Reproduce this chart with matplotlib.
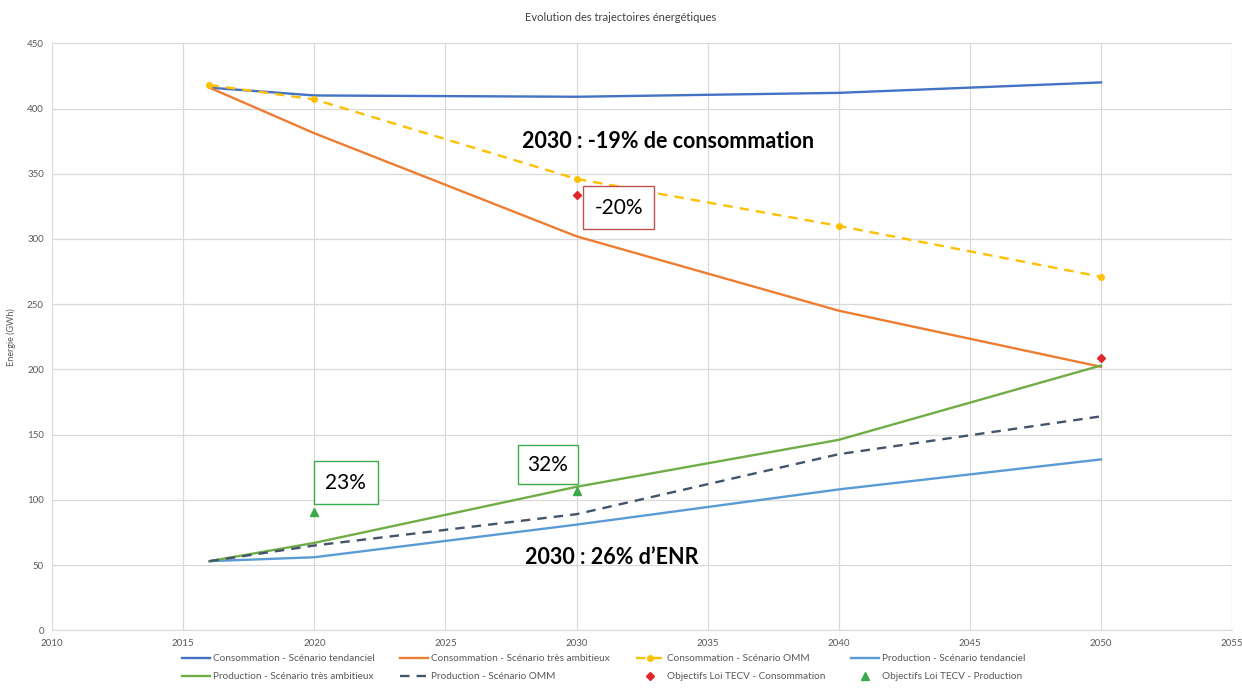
import matplotlib.pyplot as plt

# Données
years = [2016, 2020, 2030, 2040, 2050]
conso_tendanciel = [416, 410, 409, 412, 420]
conso_ambitieux = [416, 381, 302, 245, 202]
conso_omm = [418, 407, 346, 310, 271]
prod_tendanciel = [53, 56, 81, 108, 131]
prod_ambitieux = [53, 67, 110, 146, 203]
prod_omm = [53, 65, 89, 135, 164]
obj_conso_years = [2030, 2050]
obj_conso = [334, 209]
obj_prod_years = [2020, 2030]
obj_prod = [91, 107]

plt.rcParams['font.family'] = ['Lato', 'DejaVu Sans']

fig = plt.figure(figsize=(12.42, 6.98), dpi=100)
ax = fig.add_axes([0.042, 0.097, 0.95, 0.841])

h1, = ax.plot(years, conso_tendanciel, color="#4472C4", lw=1.7, label="Consommation - Scénario tendanciel")
h2, = ax.plot(years, conso_ambitieux, color="#ED7D31", lw=1.7, label="Consommation - Scénario très ambitieux")
h3, = ax.plot(years, conso_omm, color="#FFC000", lw=1.7, ls=(0, (4, 3)), marker="o", ms=4,
              label="Consommation - Scénario OMM")
h4, = ax.plot(years, prod_tendanciel, color="#5B9BD5", lw=1.7, label="Production - Scénario tendanciel")
h5, = ax.plot(years, prod_ambitieux, color="#70AD47", lw=1.7, label="Production - Scénario très ambitieux")
h6, = ax.plot(years, prod_omm, color="#44546A", lw=1.7, ls=(0, (4, 3)), label="Production - Scénario OMM")
h7, = ax.plot(obj_conso_years, obj_conso, ls="none", marker="D", ms=4.5, color="#E0262B",
              label="Objectifs Loi TECV - Consommation")
h8, = ax.plot(obj_prod_years, obj_prod, ls="none", marker="^", ms=6, color="#3BAA4B",
              label="Objectifs Loi TECV - Production")

ax.set_xlim(2010, 2055)
ax.set_ylim(0, 450)
ax.set_xticks(range(2010, 2056, 5))
ax.set_yticks(range(0, 451, 50))
ax.grid(True, color="#D9D9D9", lw=0.9)
ax.set_axisbelow(True)
for s in ["top", "right", "left"]:
    ax.spines[s].set_visible(False)
ax.spines["bottom"].set_color("#D9D9D9")
ax.tick_params(length=0, labelsize=7, colors="#595959", pad=6)

ax.set_ylabel("Energie (GWh)", fontsize=6.5, color="#595959", labelpad=8)
fig.text(0.5, 0.975, "Evolution des trajectoires énergétiques", ha="center", va="center",
         fontsize=8, color="#404040")

# Annotations
ax.text(2033.5, 375, "2030 : -19% de consommation", fontsize=15.5, fontweight="bold", ha="center", va="center")
ax.text(2031.35, 56, "2030 : 26% d’ENR", fontsize=15.5, fontweight="bold", ha="center", va="center")
ax.text(2031.6, 324, "-20%", fontsize=15, ha="center", va="center",
        bbox=dict(boxstyle="square,pad=0.55", fc="white", ec="#C0504D", lw=1))
ax.text(2021.2, 113, "23%", fontsize=15, ha="center", va="center",
        bbox=dict(boxstyle="square,pad=0.55", fc="white", ec="#3BAA4B", lw=1))
ax.text(2028.9, 127, "32%", fontsize=15, ha="center", va="center",
        bbox=dict(boxstyle="square,pad=0.45", fc="white", ec="#3BAA4B", lw=1))

handles = [h1, h5, h2, h6, h3, h7, h4, h8]
fig.legend(handles=handles, labels=[h.get_label() for h in handles], ncol=4, loc="center",
           bbox_to_anchor=(0.486, 0.043), frameon=False, fontsize=7.2, labelcolor="#595959",
           handlelength=2.8, columnspacing=2.6, handletextpad=0.3, labelspacing=0.9)

fig.savefig("out.png", dpi=100)
